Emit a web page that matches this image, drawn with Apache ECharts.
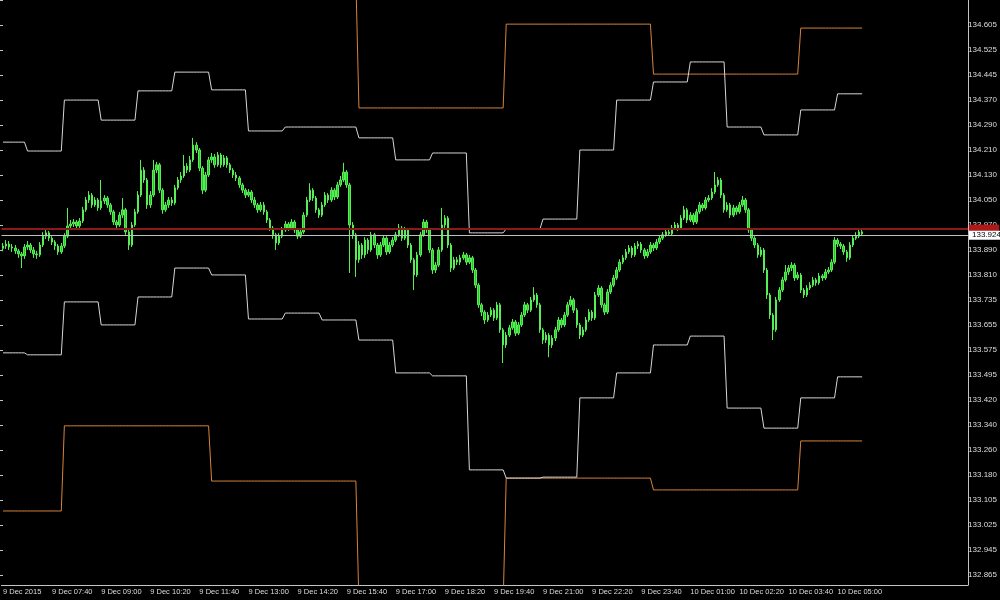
<!DOCTYPE html>
<html>
<head>
<meta charset="utf-8">
<title>USDJPY M5</title>
<script src="https://cdn.jsdelivr.net/npm/echarts@6/dist/echarts.min.js"></script>
<style>
  html, body { margin: 0; padding: 0; background: #000; }
  #chart { width: 1000px; height: 600px; }
</style>
</head>
<body>
<div id="chart"></div>
<script>
// M5 bars, 9 Dec 2015 06:20 .. 10 Dec 05:40  -> [open, close, low, high]
const candles = [
  [133.880,133.887,133.871,133.896],[133.887,133.893,133.878,133.905],[133.893,133.884,133.875,133.902],[133.884,133.881,133.869,133.893],
  [133.881,133.872,133.863,133.890],[133.872,133.863,133.851,133.878],[133.863,133.857,133.820,133.869],[133.857,133.884,133.848,133.893],
  [133.884,133.890,133.875,133.902],[133.890,133.875,133.866,133.896],[133.875,133.863,133.851,133.884],[133.863,133.860,133.848,133.872],
  [133.860,133.890,133.854,133.899],[133.890,133.917,133.884,133.929],[133.917,133.927,133.908,133.939],[133.927,133.911,133.902,133.933],
  [133.911,133.899,133.890,133.917],[133.899,133.887,133.875,133.905],[133.887,133.869,133.860,133.893],[133.869,133.887,133.863,133.896],
  [133.887,133.917,133.881,133.926],[133.917,133.948,133.911,134.003],[133.948,133.954,133.939,133.966],[133.954,133.960,133.945,133.969],
  [133.960,133.948,133.939,133.966],[133.948,133.963,133.942,133.972],[133.963,133.997,133.957,134.006],[133.997,134.027,133.991,134.036],
  [134.027,134.042,134.018,134.054],[134.042,134.012,134.003,134.048],[134.012,134.027,134.006,134.036],[134.027,134.003,133.994,134.033],
  [134.003,134.024,133.997,134.088],[134.024,134.033,134.015,134.042],[134.033,134.012,134.003,134.039],[134.012,133.991,133.982,134.018],
  [133.991,133.960,133.951,133.997],[133.960,133.951,133.939,133.966],[133.951,133.981,133.945,133.990],[133.981,133.997,133.972,134.033],
  [133.997,133.930,133.921,134.003],[133.930,133.890,133.875,133.936],[133.890,133.951,133.884,133.960],[133.951,133.991,133.945,134.000],
  [133.991,134.042,133.985,134.054],[134.042,134.118,134.036,134.149],[134.118,134.088,134.079,134.127],[134.088,134.012,134.000,134.094],
  [134.012,134.042,134.003,134.054],[134.042,134.118,134.036,134.149],[134.118,134.134,134.109,134.143],[134.134,134.057,134.048,134.140],
  [134.057,133.997,133.985,134.063],[133.997,134.012,133.991,134.021],[134.012,134.027,134.003,134.036],[134.027,134.018,134.009,134.036],
  [134.018,134.064,134.012,134.073],[134.064,134.088,134.058,134.097],[134.088,134.100,134.079,134.112],[134.100,134.130,134.094,134.164],
  [134.130,134.118,134.109,134.139],[134.118,134.149,134.112,134.161],[134.149,134.194,134.143,134.216],[134.194,134.179,134.170,134.203],
  [134.179,134.124,134.115,134.185],[134.124,134.057,134.045,134.130],[134.057,134.103,134.051,134.112],[134.103,134.149,134.097,134.158],
  [134.149,134.158,134.140,134.170],[134.158,134.134,134.125,134.167],[134.134,134.164,134.128,134.173],[134.164,134.134,134.125,134.170],
  [134.134,134.155,134.128,134.164],[134.155,134.134,134.125,134.161],[134.134,134.118,134.109,134.140],[134.118,134.103,134.094,134.124],
  [134.103,134.094,134.085,134.112],[134.094,134.073,134.064,134.100],[134.073,134.057,134.048,134.079],[134.057,134.042,134.033,134.063],
  [134.042,134.051,134.036,134.060],[134.051,134.027,134.018,134.057],[134.027,134.012,134.003,134.036],[134.012,133.997,133.988,134.018],
  [133.997,134.012,133.991,134.021],[134.012,133.991,133.982,134.021],[133.991,133.966,133.957,133.997],[133.966,133.942,133.933,133.972],
  [133.942,133.921,133.909,133.948],[133.921,133.896,133.875,133.927],[133.896,133.917,133.890,133.926],[133.917,133.936,133.911,133.945],
  [133.936,133.954,133.930,133.963],[133.954,133.942,133.933,133.960],[133.942,133.960,133.936,133.969],[133.960,133.936,133.927,133.966],
  [133.936,133.917,133.908,133.942],[133.917,133.930,133.911,133.939],[133.930,133.981,133.924,133.990],[133.981,134.027,133.975,134.036],
  [134.027,134.057,134.021,134.078],[134.057,134.033,134.024,134.063],[134.033,133.997,133.988,134.039],[133.997,133.981,133.972,134.003],
  [133.981,134.012,133.975,134.021],[134.012,134.042,134.006,134.051],[134.042,134.027,134.018,134.048],[134.027,134.057,134.021,134.066],
  [134.057,134.036,134.027,134.063],[134.036,134.073,134.030,134.082],[134.073,134.088,134.067,134.100],[134.088,134.112,134.082,134.140],
  [134.112,134.073,134.064,134.118],[134.073,133.951,133.805,134.079],[133.951,133.921,133.909,133.960],[133.921,133.845,133.793,133.927],
  [133.845,133.890,133.836,133.902],[133.890,133.860,133.848,133.896],[133.860,133.905,133.851,133.914],[133.905,133.875,133.863,133.911],
  [133.875,133.921,133.869,133.930],[133.921,133.890,133.881,133.927],[133.890,133.860,133.848,133.896],[133.860,133.890,133.854,133.899],
  [133.890,133.911,133.884,133.920],[133.911,133.869,133.860,133.917],[133.869,133.890,133.863,133.899],[133.890,133.905,133.884,133.914],
  [133.905,133.921,133.899,133.930],[133.921,133.942,133.915,133.954],[133.942,133.911,133.902,133.948],[133.911,133.936,133.905,133.945],
  [133.936,133.890,133.881,133.942],[133.890,133.845,133.836,133.896],[133.845,133.799,133.753,133.851],[133.799,133.860,133.793,133.869],
  [133.860,133.921,133.854,133.930],[133.921,133.960,133.915,133.969],[133.960,133.936,133.927,133.966],[133.936,133.875,133.866,133.942],
  [133.875,133.814,133.802,133.881],[133.814,133.829,133.805,133.838],[133.829,133.875,133.823,133.884],[133.875,133.951,133.869,134.003],
  [133.951,133.972,133.942,133.981],[133.972,133.890,133.881,133.978],[133.890,133.820,133.808,133.896],[133.820,133.845,133.814,133.854],
  [133.845,133.838,133.829,133.854],[133.838,133.851,133.829,133.860],[133.851,133.860,133.845,133.869],[133.860,133.838,133.829,133.866],
  [133.838,133.851,133.832,133.860],[133.851,133.814,133.805,133.857],[133.814,133.768,133.759,133.820],[133.768,133.708,133.699,133.774],
  [133.708,133.686,133.674,133.714],[133.686,133.662,133.650,133.692],[133.662,133.677,133.656,133.686],[133.677,133.692,133.671,133.701],
  [133.692,133.668,133.659,133.698],[133.668,133.708,133.662,133.717],[133.708,133.632,133.623,133.714],[133.632,133.586,133.531,133.638],
  [133.586,133.616,133.577,133.625],[133.616,133.638,133.610,133.647],[133.638,133.656,133.632,133.665],[133.656,133.622,133.613,133.662],
  [133.622,133.647,133.616,133.656],[133.647,133.677,133.641,133.686],[133.677,133.708,133.671,133.717],[133.708,133.692,133.683,133.714],
  [133.692,133.723,133.686,133.732],[133.723,133.738,133.717,133.762],[133.738,133.708,133.699,133.744],[133.708,133.632,133.623,133.714],
  [133.632,133.601,133.589,133.638],[133.601,133.616,133.592,133.625],[133.616,133.586,133.549,133.622],[133.586,133.607,133.577,133.616],
  [133.607,133.632,133.598,133.641],[133.632,133.662,133.626,133.671],[133.662,133.647,133.638,133.668],[133.647,133.677,133.641,133.686],
  [133.677,133.708,133.671,133.717],[133.708,133.723,133.702,133.735],[133.723,133.692,133.683,133.729],[133.692,133.647,133.638,133.698],
  [133.647,133.616,133.604,133.653],[133.616,133.632,133.610,133.641],[133.632,133.662,133.626,133.671],[133.662,133.686,133.656,133.695],
  [133.686,133.668,133.659,133.692],[133.668,133.738,133.662,133.747],[133.738,133.759,133.732,133.768],[133.759,133.708,133.699,133.765],
  [133.708,133.686,133.677,133.714],[133.686,133.747,133.680,133.756],[133.747,133.768,133.741,133.777],[133.768,133.790,133.762,133.799],
  [133.790,133.814,133.784,133.823],[133.814,133.838,133.808,133.847],[133.838,133.851,133.832,133.860],[133.851,133.869,133.845,133.878],
  [133.869,133.881,133.863,133.890],[133.881,133.860,133.851,133.887],[133.860,133.887,133.854,133.896],[133.887,133.893,133.878,133.902],
  [133.893,133.875,133.866,133.899],[133.875,133.857,133.848,133.881],[133.857,133.869,133.851,133.878],[133.869,133.890,133.863,133.899],
  [133.890,133.881,133.872,133.896],[133.881,133.899,133.875,133.908],[133.899,133.911,133.893,133.920],[133.911,133.921,133.905,133.930],
  [133.921,133.930,133.915,133.939],[133.930,133.924,133.918,133.936],[133.924,133.942,133.918,133.951],[133.942,133.951,133.936,133.960],
  [133.951,133.942,133.933,133.957],[133.942,133.972,133.936,133.981],[133.972,133.997,133.966,134.009],[133.997,133.966,133.957,134.003],
  [133.966,133.981,133.960,133.990],[133.981,133.960,133.951,133.987],[133.960,133.991,133.954,134.000],[133.991,134.012,133.985,134.021],
  [134.012,134.003,133.994,134.018],[134.003,134.027,133.997,134.036],[134.027,134.033,134.021,134.042],[134.033,134.051,134.027,134.063],
  [134.051,134.073,134.045,134.112],[134.073,134.088,134.067,134.097],[134.088,134.042,134.033,134.094],[134.042,133.997,133.988,134.048],
  [133.997,134.012,133.991,134.021],[134.012,133.981,133.972,134.018],[133.981,134.003,133.975,134.012],[134.003,133.991,133.982,134.009],
  [133.991,134.012,133.985,134.021],[134.012,134.027,134.006,134.039],[134.027,133.997,133.988,134.033],[133.997,133.936,133.927,134.003],
  [133.936,133.911,133.902,133.942],[133.911,133.890,133.881,133.917],[133.890,133.860,133.851,133.896],[133.860,133.875,133.854,133.884],
  [133.875,133.814,133.805,133.881],[133.814,133.738,133.726,133.820],[133.738,133.677,133.665,133.744],[133.677,133.632,133.601,133.683],
  [133.632,133.723,133.626,133.732],[133.723,133.753,133.717,133.762],[133.753,133.784,133.747,133.793],[133.784,133.808,133.778,133.829],
  [133.808,133.820,133.799,133.829],[133.820,133.829,133.811,133.838],[133.829,133.790,133.781,133.835],[133.790,133.799,133.784,133.808],
  [133.799,133.753,133.744,133.805],[133.753,133.738,133.729,133.759],[133.738,133.759,133.732,133.768],[133.759,133.768,133.753,133.777],
  [133.768,133.784,133.762,133.793],[133.784,133.775,133.766,133.790],[133.775,133.796,133.769,133.805],[133.796,133.790,133.781,133.802],
  [133.790,133.808,133.784,133.817],[133.808,133.814,133.802,133.823],[133.814,133.838,133.808,133.847],[133.838,133.905,133.832,133.914],
  [133.905,133.893,133.884,133.911],[133.893,133.887,133.878,133.899],[133.887,133.869,133.860,133.893],[133.869,133.851,133.839,133.875],
  [133.851,133.890,133.845,133.899],[133.890,133.911,133.884,133.920],[133.911,133.917,133.905,133.929],[133.917,133.930,133.911,133.939],
  [133.930,133.924,133.918,133.936]
];

// hourly channel levels (one value per clock hour, 06:00 .. 05:00)
const upperWhite = [134.203,134.176,134.331,134.270,134.359,134.416,134.362,134.237,134.249,134.249,134.216,134.149,
                    134.170,133.927,133.939,133.969,134.179,134.331,134.386,134.447,134.249,134.225,134.301,134.350];
const lowerWhite = [133.562,133.556,133.717,133.647,133.732,133.820,133.799,133.665,133.683,133.662,133.601,133.501,
                    133.492,133.206,133.181,133.184,133.425,133.501,133.586,133.613,133.394,133.333,133.425,133.489];
const upperOrange = [134.720,134.720,134.690,134.690,134.690,134.690,134.700,134.700,134.700,134.700,134.307,134.307,
                     134.307,134.307,134.562,134.562,134.562,134.562,134.410,134.410,134.410,134.410,134.550,134.550];
const lowerOrange = [133.081,133.081,133.340,133.340,133.340,133.340,133.172,133.172,133.172,133.172,132.800,132.800,
                     132.800,132.800,133.181,133.181,133.181,133.181,133.145,133.145,133.145,133.145,133.294,133.294];

const bidPrice = 133.924;
const askPrice = 133.937;

const xTickLabels = ['9 Dec 2015','9 Dec 07:40','9 Dec 09:00','9 Dec 10:20','9 Dec 11:40','9 Dec 13:00',
  '9 Dec 14:20','9 Dec 15:40','9 Dec 17:00','9 Dec 18:20','9 Dec 19:40','9 Dec 21:00','9 Dec 22:20',
  '9 Dec 23:40','10 Dec 01:00','10 Dec 02:20','10 Dec 03:40','10 Dec 05:00'];
const yTickLabels = ['132.865','132.945','133.025','133.105','133.180','133.260','133.340','133.420',
  '133.495','133.575','133.655','133.735','133.810','133.890','133.970','134.050','134.130','134.210',
  '134.290','134.370','134.445','134.525','134.605'];

const SLOTS = 315; // bar slots incl. empty space right of last bar
const slots = [];
for (let i = 0; i < SLOTS; i++) slots.push(i);

// first bar is 06:20, so bar i belongs to hour floor((i+4)/12)
const hourOf = i => Math.floor((i + 4) / 12);
const perBar = levels => candles.map((c, i) => levels[hourOf(i)]);

const axisGrey = '#c4c4c4';
const textGrey = '#dcdcdc';

const chart = echarts.init(document.getElementById('chart'));

function stepLine(name, levels, color) {
  return {
    name: name,
    type: 'line',
    xAxisIndex: 0,
    yAxisIndex: 0,
    data: perBar(levels),
    symbol: 'none',
    silent: true,
    lineStyle: { color: color, width: 1 },
    z: 3
  };
}

chart.setOption({
  backgroundColor: '#000',
  animation: false,
  grid: [
    { left: 0, right: 32, top: 0, bottom: 15 },
    // helper grid that only carries the right-hand price labels
    { left: 0, right: 32, top: -16, bottom: -8 }
  ],
  xAxis: [
    {
      type: 'category',
      gridIndex: 0,
      data: slots,
      boundaryGap: true,
      axisLine: { lineStyle: { color: axisGrey, width: 1 } },
      axisTick: { alignWithLabel: true, interval: 15, length: 4, lineStyle: { color: axisGrey } },
      axisLabel: {
        interval: 15,
        color: textGrey,
        fontSize: 7.5,
        fontFamily: 'Liberation Sans',
        align: 'left',
        margin: 3,
        formatter: (v, i) => xTickLabels[i / 16] || ''
      },
      splitLine: { show: false }
    },
    { type: 'value', gridIndex: 1, show: false, min: 0, max: 1 }
  ],
  yAxis: [
    {
      type: 'value',
      gridIndex: 0,
      position: 'right',
      min: 132.8558,
      max: 134.6354,
      axisLine: { show: true, lineStyle: { color: axisGrey, width: 1 } },
      axisTick: { show: false },
      axisLabel: { show: false },
      splitLine: { show: false }
    },
    {
      type: 'value',
      gridIndex: 1,
      position: 'right',
      min: -1,
      max: 23,
      interval: 1,
      axisLine: { show: false },
      axisTick: { show: true, length: 3, lineStyle: { color: axisGrey } },
      axisLabel: {
        color: textGrey,
        fontSize: 8,
        fontFamily: 'Liberation Sans',
        margin: 2,
        formatter: v => yTickLabels[v] || ''
      },
      splitLine: { show: false }
    }
  ],
  series: [
    stepLine('upperOrange', upperOrange, '#d5843a'),
    stepLine('lowerOrange', lowerOrange, '#d5843a'),
    stepLine('upperWhite', upperWhite, '#d6d6d6'),
    stepLine('lowerWhite', lowerWhite, '#d6d6d6'),
    {
      name: 'USDJPY',
      type: 'candlestick',
      xAxisIndex: 0,
      yAxisIndex: 0,
      data: candles,
      barWidth: 2,
      z: 4,
      itemStyle: {
        color: '#2cc52c',
        color0: '#2cc52c',
        borderColor: '#55ee55',
        borderColor0: '#55ee55',
        borderWidth: 1
      },
      markLine: {
        silent: true,
        symbol: ['none', 'none'],
        animation: false,
        data: [
          {
            yAxis: askPrice,
            lineStyle: { color: '#8c1a1a', width: 2, type: 'solid' },
            label: {
              show: true,
              position: 'end',
              distance: 1,
              formatter: ' ',
              backgroundColor: '#b01818',
              width: 30,
              height: 8,
              padding: 0
            }
          },
          {
            yAxis: bidPrice,
            lineStyle: { color: '#c0c0c0', width: 1, type: 'solid' },
            label: {
              show: true,
              position: 'end',
              distance: 1,
              formatter: bidPrice.toFixed(3),
              color: '#000',
              backgroundColor: '#ffffff',
              fontSize: 8,
              fontFamily: 'Liberation Sans',
              padding: [1, 3, 0, 3]
            }
          }
        ]
      }
    }
  ]
});
</script>
</body>
</html>
